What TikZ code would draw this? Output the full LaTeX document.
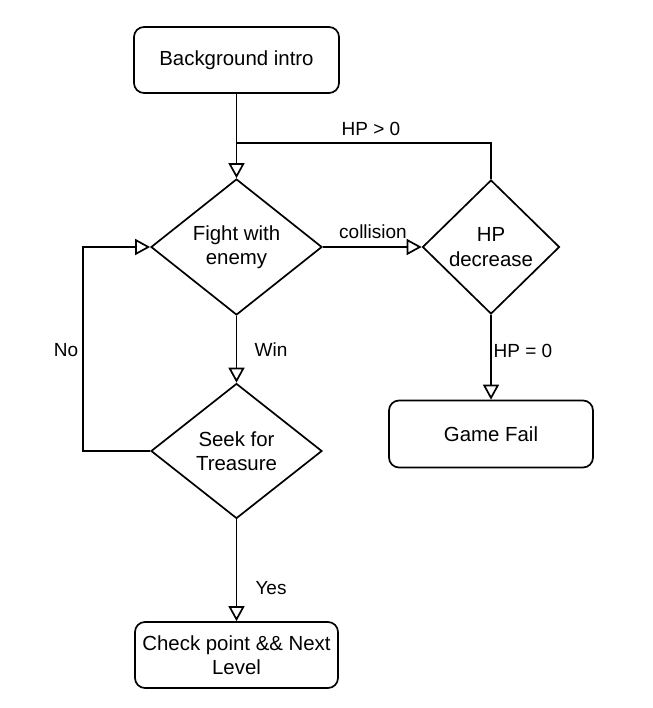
\documentclass[tikz,border=0pt]{standalone}
\usepackage{fontspec}
\setmainfont{Liberation Sans}
\usetikzlibrary{positioning}
\usetikzlibrary{shapes.geometric}
\usetikzlibrary{arrows.meta}
\tikzset{box/.style={draw, rounded corners=10pt, minimum width=205pt, minimum height=66pt, inner sep=0pt, align=center, font=\fontsize{20.4}{24.5}\selectfont}}
\tikzset{dec/.style={draw, diamond, minimum width=171pt, minimum height=136pt, inner sep=0pt, align=center, font=\fontsize{20.4}{24.5}\selectfont}}
\tikzset{lbl/.style={inner sep=1pt, font=\fontsize{19}{22}\selectfont}}
\tikzset{>={Triangle[open,length=15pt,width=16pt]}}

\begin{document}
\begin{tikzpicture}[x=1pt, y=-1pt, line width=1.7pt]
    \useasboundingbox (0,0) rectangle (652,708);

    \node[box] (intro) at (236.5,60) {Background intro};
    \node[dec] (fight) at (236.5,247) {Fight with\\enemy};
    \node[dec, minimum width=137pt, minimum height=134pt] (hp) at (491,247) {HP\\decrease};
    \node[dec, minimum height=135pt] (seek) at (236.5,451) {Seek for\\Treasure};
    \node[box, minimum width=204pt, minimum height=67pt] (fail) at (491,434) {Game Fail};
    \node[box, minimum width=203pt] (check) at (236.5,655) {Check point \&\& Next\\Level};

    \coordinate (join) at (236.5,143);
    \coordinate (loop) at (83,451);

    \draw[->] (intro) -- (fight);
    \draw (hp.north) |- (join);
    \draw[->] (fight) -- (hp);
    \draw[->] (hp) -- (fail);
    \draw[->] (fight) -- (seek);
    \draw[->] (seek) -- (check);
    \draw[->] (seek.west) -- (loop) |- (fight.west);

    \node[lbl] (gt) at (371,129) {HP > 0};
    \node[lbl] (hit) at (373,232) {collision};
    \node[lbl] (zero) at (523,351) {HP = 0};
    \node[lbl] (win) at (271,350) {Win};
    \node[lbl] (no) at (66,350) {No};
    \node[lbl] (yes) at (271,588) {Yes};
\end{tikzpicture}
\end{document}
